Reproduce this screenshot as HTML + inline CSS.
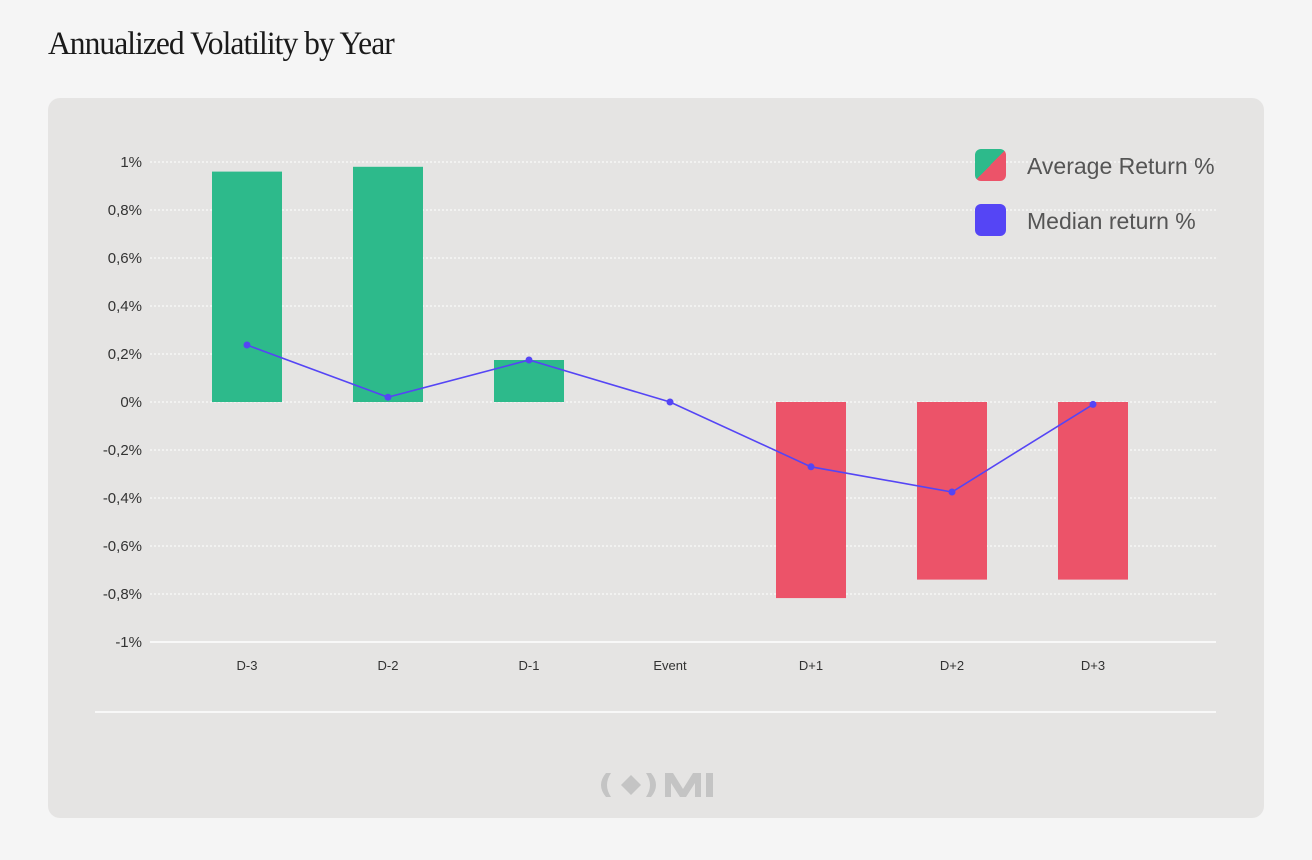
<!DOCTYPE html>
<html><head><meta charset="utf-8"><style>
body{margin:0;width:1312px;height:860px;background:#f5f5f5;font-family:"Liberation Sans",sans-serif;overflow:hidden;position:relative}
#title{position:absolute;left:48px;top:26px;font-family:"Liberation Serif",serif;font-size:33px;color:#1a1a1a;letter-spacing:-1px;transform:scaleX(0.955);transform-origin:left;white-space:nowrap}
#card{position:absolute;left:48px;top:98px;width:1216px;height:720px;background:#e5e4e3;border-radius:12px}
svg{position:absolute;left:0;top:0}
</style></head><body>
<div id="title">Annualized Volatility by Year</div>
<div id="card"></div>
<svg id="chart" width="1312" height="860"></svg>
<script>
const categories=["D-3","D-2","D-1","Event","D+1","D+2","D+3"];
const avgReturn=[0.96,0.98,0.175,0,-0.817,-0.74,-0.74];
const medianReturn=[0.2375,0.02,0.175,0,-0.27,-0.375,-0.01];
const yTicks=[1,0.8,0.6,0.4,0.2,0,-0.2,-0.4,-0.6,-0.8,-1];
const yTickLabels=["1%","0,8%","0,6%","0,4%","0,2%","0%","-0,2%","-0,4%","-0,6%","-0,8%","-1%"];
const NS="http://www.w3.org/2000/svg";
const svg=document.getElementById('chart');
function y(v){return 402-v*240;}
function x(i){return 247+i*141;}
function mk(t,a,p){const e=document.createElementNS(NS,t);for(const k in a)e.setAttribute(k,a[k]);(p||svg).appendChild(e);return e;}
const defs=mk('defs',{});
const lg=mk('linearGradient',{id:'sw',x1:0,y1:0,x2:1,y2:1},defs);
mk('stop',{offset:'0.5','stop-color':'#2dba8b'},lg);mk('stop',{offset:'0.5','stop-color':'#ec5369'},lg);
yTicks.forEach((v,i)=>{
  const g=mk('line',{x1:150,x2:1216,y1:y(v),y2:y(v),stroke:'#ffffff','stroke-width':v===-1?1.5:1,'stroke-dasharray':v===-1?'':'2,2'});
  
  
  const t=mk('text',{x:142,y:y(v)+5,'text-anchor':'end','font-size':15,fill:'#333'});
  t.textContent=yTickLabels[i];
  
  
});
categories.forEach((c,i)=>{
  const v=avgReturn[i];
  if(v!==0){
    const r=mk('rect',{x:x(i)-35,width:70,y:Math.min(y(v),y(0)),height:Math.abs(y(v)-y(0)),fill:v>0?'#2dba8b':'#ec5369'});
    
    
  }
  const t=mk('text',{x:x(i),y:670,'text-anchor':'middle','font-size':13,fill:'#333'});
  t.textContent=c;
  
  
});
const pl=mk('polyline',{points:medianReturn.map((v,i)=>x(i)+','+y(v)).join(' '),fill:'none',stroke:'#5545f5','stroke-width':1.6});


medianReturn.forEach((v,i)=>{
  const c=mk('circle',{cx:x(i),cy:y(v),r:3.5,fill:'#5545f5'});
  
  
});
const bl=mk('line',{x1:95,x2:1216,y1:712,y2:712,stroke:'#fff','stroke-width':1.5});


const s1=mk('rect',{x:975,y:149,width:31,height:32,rx:6,fill:'url(#sw)'});


const t1=mk('text',{x:1027,y:174,'font-size':23,fill:'#555'});t1.textContent='Average Return %';


const s2=mk('rect',{x:975,y:204,width:31,height:32,rx:6,fill:'#5545f5'});


const t2=mk('text',{x:1027,y:229,'font-size':23,fill:'#555'});t2.textContent='Median return %';


const logo=mk('g',{fill:'#c4c4c4'});


mk('path',{d:'M606 773 Q596 785 606 797 L611 797 Q603 785 611 773 Z'},logo);
mk('path',{d:'M621 785 L631 775 L641 785 L631 795 Z'},logo);
mk('path',{d:'M651 773 Q661 785 651 797 L646 797 Q654 785 646 773 Z'},logo);
mk('path',{d:'M665 773 L673 773 L683 789 L693 773 L701 773 L701 797 L695 797 L695 783 L686 797 L680 797 L671 783 L671 797 L665 797 Z'},logo);
mk('rect',{x:706,y:773,width:7,height:24},logo);
</script>
</body></html>
